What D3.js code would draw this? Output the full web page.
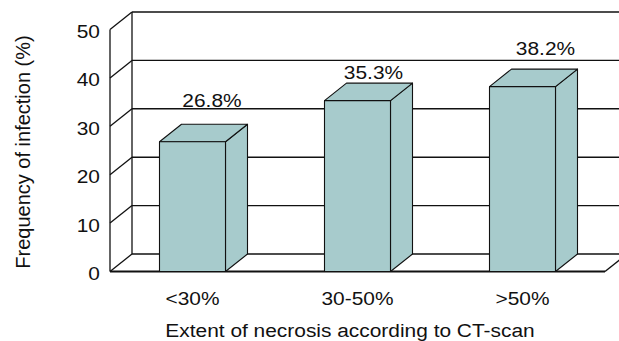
<!DOCTYPE html>
<html>
<head>
<meta charset="utf-8">
<script src="https://cdn.jsdelivr.net/npm/d3@7"></script>
<style>
  html, body { margin: 0; padding: 0; background: #fff; }
  svg { display: block; }
  text { font-family: "Liberation Sans", Arial, Helvetica, sans-serif; fill: #111; }
</style>
</head>
<body>
<svg id="chart" width="619" height="341"></svg>
<script>
// Infection frequency by extent of necrosis
const categories = ["<30%", "30-50%", ">50%"];
const values = [26.8, 35.3, 38.2];
const valueLabels = ["26.8%", "35.3%", "38.2%"];
const yTicks = [0, 10, 20, 30, 40, 50];
const yTitle = "Frequency of infection (%)";
const xTitle = "Extent of necrosis according to CT-scan";

const svg = d3.select("#chart");

// Front plane geometry and the 3D depth offset
const front = { left: 110, right: 605, bottom: 271.5, top: 29.5 };
const depth = { dx: 22, dy: -17.5 };
const sx = 1.1;       // horizontal stretch of the lettering
const fontSize = 19;

const x = d3.scaleBand()
  .domain(categories)
  .range([front.left, front.right])
  .paddingInner(0.6)
  .paddingOuter(0.3);

const y = d3.scaleLinear()
  .domain([0, 50])
  .range([front.bottom, front.top]);

const ink = "#111";
const barFill = "#a7cbcc";

// Back wall: horizontal gridlines and left edge
const wall = svg.append("g").attr("stroke", ink).attr("fill", "none");
yTicks.forEach(t => {
  wall.append("line")
    .attr("x1", front.left + depth.dx).attr("x2", 640)
    .attr("y1", y(t) + depth.dy).attr("y2", y(t) + depth.dy)
    .attr("stroke-width", 1.4);
  // diagonal from the front axis to the back wall
  wall.append("line")
    .attr("x1", front.left).attr("y1", y(t))
    .attr("x2", front.left + depth.dx).attr("y2", y(t) + depth.dy)
    .attr("stroke-width", 1.3);
});
wall.append("line")
  .attr("x1", front.left + depth.dx).attr("x2", front.left + depth.dx)
  .attr("y1", y(0) + depth.dy).attr("y2", y(50) + depth.dy)
  .attr("stroke-width", 1.3);
// front-left axis
wall.append("line")
  .attr("x1", front.left).attr("x2", front.left)
  .attr("y1", y(0)).attr("y2", y(50))
  .attr("stroke-width", 1.3);
// floor front edge and right diagonal
wall.append("line")
  .attr("x1", front.left).attr("x2", front.right)
  .attr("y1", y(0)).attr("y2", y(0))
  .attr("stroke-width", 1.8);
wall.append("line")
  .attr("x1", front.right).attr("y1", y(0))
  .attr("x2", front.right + depth.dx).attr("y2", y(0) + depth.dy)
  .attr("stroke-width", 1.4);

// Bars drawn as boxes: side, top, front
const bars = svg.append("g")
  .attr("fill", barFill)
  .attr("stroke", ink)
  .attr("stroke-width", 1.1)
  .attr("stroke-linejoin", "round");

categories.forEach((c, i) => {
  const x0 = x(c), x1 = x(c) + x.bandwidth();
  const yt = y(values[i]), yb = y(0);
  const g = bars.append("g");
  g.append("path").attr("d", d3.line()([
    [x1, yb], [x1 + depth.dx, yb + depth.dy],
    [x1 + depth.dx, yt + depth.dy], [x1, yt]
  ]) + "Z");
  g.append("path").attr("d", d3.line()([
    [x0, yt], [x0 + depth.dx, yt + depth.dy],
    [x1 + depth.dx, yt + depth.dy], [x1, yt]
  ]) + "Z");
  g.append("rect")
    .attr("x", x0).attr("y", yt)
    .attr("width", x.bandwidth()).attr("height", yb - yt);
});

// Value labels above each bar (small hand placement nudges)
const labelNudge = [[19.5, -17], [16, -4], [23, -14.5]];
svg.append("g").selectAll("text")
  .data(values)
  .join("text")
  .attr("text-anchor", "middle")
  .attr("font-size", fontSize)
  .attr("transform", (v, i) => {
    const cx = x(categories[i]) + x.bandwidth() / 2 + labelNudge[i][0];
    const cy = y(v) + depth.dy + labelNudge[i][1];
    return `translate(${cx},${cy}) scale(${sx},1)`;
  })
  .text((v, i) => valueLabels[i]);

// Y tick labels
svg.append("g").selectAll("text")
  .data(yTicks)
  .join("text")
  .attr("text-anchor", "end")
  .attr("font-size", fontSize)
  .attr("transform", t => `translate(100,${y(t) + 8.5}) scale(${sx},1)`)
  .text(t => t);

// Category labels
svg.append("g").selectAll("text")
  .data(categories)
  .join("text")
  .attr("text-anchor", "middle")
  .attr("font-size", fontSize)
  .attr("transform", c => `translate(${x(c) + x.bandwidth() / 2},305) scale(${sx},1)`)
  .text(c => c);

// Axis titles
svg.append("text")
  .attr("text-anchor", "middle")
  .attr("font-size", fontSize)
  .attr("transform", `translate(350,337) scale(${sx},1)`)
  .text(xTitle);

svg.append("text")
  .attr("text-anchor", "middle")
  .attr("font-size", 20)
  .attr("transform", "translate(30,152) rotate(-90)")
  .text(yTitle);
</script>
</body>
</html>
